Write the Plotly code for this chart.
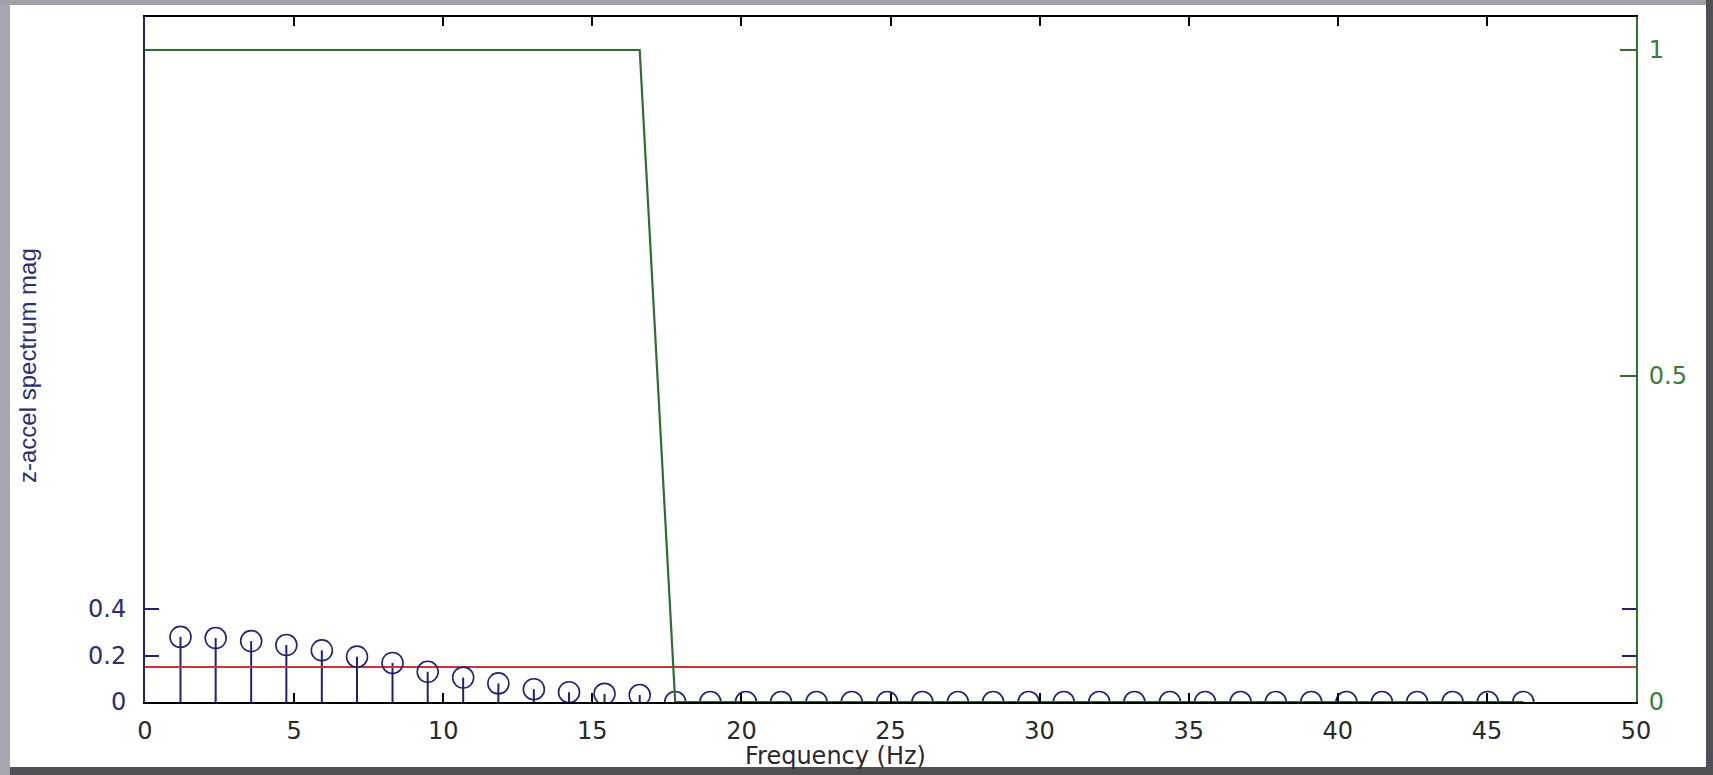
import plotly.graph_objects as go

# ---------------- data ----------------
freq_hz = [1.19, 2.37, 3.56, 4.74, 5.93, 7.11, 8.30, 9.48, 10.67, 11.85,
           13.04, 14.22, 15.41, 16.59, 17.78, 18.96, 20.15, 21.33, 22.52, 23.70,
           24.89, 26.07, 27.26, 28.44, 29.63, 30.81, 32.00, 33.18, 34.37, 35.55,
           36.74, 37.92, 39.11, 40.29, 41.48, 42.66, 43.85, 45.03, 46.22]
spectrum_mag = [0.280, 0.275, 0.262, 0.245, 0.222, 0.195, 0.168, 0.130, 0.105, 0.080,
                0.055, 0.042, 0.035, 0.030, 0.0, 0.0, 0.0, 0.0, 0.0, 0.0,
                0.0, 0.0, 0.0, 0.0, 0.0, 0.0, 0.0, 0.0, 0.0, 0.0,
                0.0, 0.0, 0.0, 0.0, 0.0, 0.0, 0.0, 0.0, 0.0]
mask_x = [0.0] + freq_hz
mask_y = [1, 1, 1, 1, 1, 1, 1, 1, 1, 1, 1, 1, 1, 1, 1,
          0, 0, 0, 0, 0, 0, 0, 0, 0, 0, 0, 0, 0, 0, 0,
          0, 0, 0, 0, 0, 0, 0, 0, 0, 0]
threshold_x = [0, 50]
threshold_y = [0.15, 0.15]
x_ticks = [0, 5, 10, 15, 20, 25, 30, 35, 40, 45, 50]
y_ticks = [0, 0.2, 0.4]
y_ticktext = ["0", "0.2", "0.4"]
y2_ticks = [0, 0.5, 1]
y2_ticktext = ["0", "0.5", "1"]

NAVY = "#20207a"
GREEN = "#2f6e2f"
GREEN_TXT = "#3b7d3b"
RED = "#cc3535"

# stems built from the data
stem_x, stem_y = [], []
for f, m in zip(freq_hz, spectrum_mag):
    stem_x += [f, f, None]
    stem_y += [0, m, None]

fig = go.Figure()
fig.add_trace(go.Scatter(x=stem_x, y=stem_y, mode="lines",
                         line=dict(color=NAVY, width=2), showlegend=False,
                         hoverinfo="skip"))
fig.add_trace(go.Scatter(x=threshold_x, y=threshold_y, mode="lines",
                         line=dict(color=RED, width=2), showlegend=False))
fig.add_trace(go.Scatter(x=freq_hz, y=spectrum_mag, mode="markers",
                         marker=dict(symbol="circle-open", size=21, color=NAVY,
                                     line=dict(width=1.6, color=NAVY)),
                         showlegend=False))
fig.add_trace(go.Scatter(x=mask_x, y=mask_y, mode="lines", yaxis="y2",
                         line=dict(color=GREEN, width=2.2), showlegend=False))

W, H = 1713, 775
L, R, T, B = 145, 77, 17, 73
pw, ph = W - L - R, H - T - B

def px(x):
    return (x - L) / pw

def py(y):
    return (H - B - y) / ph

fig.update_layout(
    width=W, height=H,
    margin=dict(l=L, r=R, t=T, b=B),
    paper_bgcolor="#4f4f56",
    plot_bgcolor="white",
    font=dict(family="DejaVu Sans", size=22, color="#222222"),
    xaxis=dict(range=[0, 50], tickvals=x_ticks, ticks="inside", ticklen=9,
               tickwidth=1.5, tickcolor="black", showline=True,
               linecolor="black", linewidth=1.5, mirror="ticks",
               showgrid=False, zeroline=False, ticklabelstandoff=6,
               tickfont=dict(size=24, color="#2a2a2a")),
    yaxis=dict(range=[0, 2.946], tickvals=y_ticks, ticktext=y_ticktext,
               ticks="inside", ticklen=14, tickwidth=1.5, tickcolor=NAVY,
               showline=True, linecolor=NAVY, linewidth=2, mirror="ticks",
               showgrid=False, zeroline=False, ticklabelstandoff=12,
               tickfont=dict(size=24, color="#2c2c80")),
    yaxis2=dict(range=[0, 1.0506], overlaying="y", side="right",
                tickvals=y2_ticks, ticktext=y2_ticktext, ticks="inside",
                ticklen=16, tickwidth=1.5, tickcolor=GREEN, showline=True,
                linecolor=GREEN, linewidth=2, showgrid=False, zeroline=False,
                ticklabelstandoff=6, tickfont=dict(size=24, color=GREEN_TXT)),
    shapes=[
        dict(type="rect", xref="paper", yref="paper", layer="below",
             x0=px(10), x1=px(1706), y0=py(767), y1=py(5),
             fillcolor="white", line=dict(width=0)),
        dict(type="rect", xref="paper", yref="paper", layer="below",
             x0=px(0), x1=px(10), y0=py(775), y1=py(0),
             fillcolor="#a6a6ae", line=dict(width=0)),
        dict(type="rect", xref="paper", yref="paper", layer="below",
             x0=px(0), x1=px(1706), y0=py(5), y1=py(0),
             fillcolor="#a0a0a8", line=dict(width=0)),
    ],
    annotations=[
        dict(text="Frequency (Hz)", xref="paper", yref="paper",
             x=px(835), y=py(756), xanchor="center", yanchor="middle",
             showarrow=False, font=dict(size=24, color="#2a2a2a")),
        dict(text="z-accel spectrum mag", xref="paper", yref="paper",
             x=px(27), y=py(366), xanchor="center", yanchor="middle",
             textangle=-90, showarrow=False,
             font=dict(family="Liberation Sans", size=24, color="#2c2c80")),
    ],
)

fig.write_html("out.html",
               config={"displayModeBar": False},
               post_script="document.body.style.margin='0';"
                           "document.body.style.overflow='hidden';")
